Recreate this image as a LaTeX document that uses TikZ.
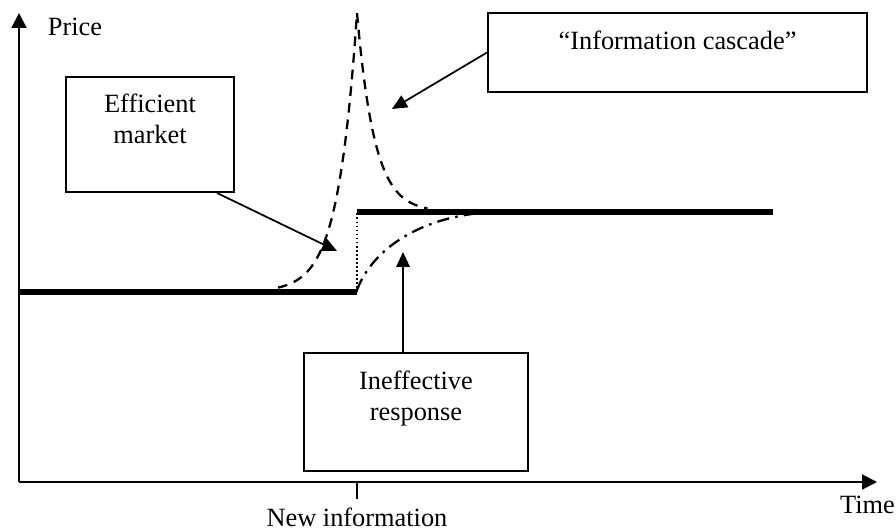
\documentclass[tikz,border=0pt]{standalone}
\usepackage{fontspec}
\setmainfont{Liberation Serif}
\usetikzlibrary{arrows.meta,positioning}
\definecolor{Ink}{HTML}{000000}

\begin{document}
\begin{tikzpicture}[
    font=\fontsize{15}{18}\selectfont,
    text=Ink,
    axis/.style={
        -{Triangle[length=3mm,width=3mm]},
        line width=1.1pt,
        draw=Ink
    },
    pointer/.style={
        -{Triangle[length=3mm,width=2.7mm]},
        line width=1pt,
        draw=Ink
    },
    box/.style={
        draw=Ink,
        line width=1.1pt,
        fill=white,
        inner sep=0pt
    },
    boxtext/.style={
        align=center,
        inner sep=0pt
    },
    level/.style={
        draw=Ink,
        line width=3pt
    },
    jump/.style={
        draw=Ink,
        line width=1pt,
        dash pattern=on 1pt off 1.3pt
    },
    overshoot/.style={
        draw=Ink,
        line width=1.3pt,
        dash pattern=on 5.5pt off 4pt
    },
    sluggish/.style={
        draw=Ink,
        line width=1.3pt,
        dash pattern=on 7pt off 3.5pt on 1.5pt off 3.5pt
    },
    lbl/.style={
        inner sep=0pt
    }
]

\useasboundingbox (0,0) rectangle (17.92,10.6);

% Axes
\coordinate (O) at (0.38,0.96);
\coordinate (ytop) at (0.38,10.34);
\coordinate (xend) at (17.54,0.96);
\draw[axis] (O) -- (ytop);
\draw[axis] (O) -- (xend);

\node[lbl] (price) at (1.5,10.06) {Price};
\node[lbl] (time) at (17.35,0.5) {Time};

% New information tick
\coordinate (newtop) at (7.14,0.96);
\coordinate (newbot) at (7.14,0.62);
\draw[line width=1.1pt, draw=Ink] (newtop) -- (newbot);
\node[lbl, below=0.17cm of newbot] (newinfo) {New information};

% Price levels
\coordinate (lowstart) at (0.38,4.76);
\coordinate (lowend) at (7.14,4.76);
\coordinate (highstart) at (7.14,6.36);
\coordinate (highend) at (15.46,6.36);
\draw[level] (lowstart) -- (lowend);
\draw[level] (highstart) -- (highend);
\draw[jump] (lowend) -- (highstart);

% Cascade overshoot
\draw[overshoot] plot[domain=5.56:7.14, samples=60] (\x, {4.76+5.58*exp((\x-7.14)/0.38)})
    -- plot[domain=7.14:8.55, samples=60] (\x, {6.36+3.98*exp(-(\x-7.14)/0.35)});

% Slow adjustment
\draw[sluggish] (7.14,4.8) .. controls (7.44,5.6) and (8.4,6.3) .. (9.9,6.36);

% Boxes
\node[box, minimum width=3.36cm, minimum height=2.3cm] (effbox) at (3.0,7.91) {};
\node[boxtext] (efftext) at (3.0,8.22) {Efficient\\market};

\node[box, minimum width=7.58cm, minimum height=1.58cm] (cascbox) at (13.55,9.55) {};
\node[boxtext] (casctext) at (13.55,9.8) {``Information cascade''};

\node[box, minimum width=4.48cm, minimum height=2.36cm] (inefbox) at (8.32,2.36) {};
\node[boxtext] (ineftext) at (8.32,2.63) {Ineffective\\response};

% Pointers
\coordinate (efftip) at (6.74,5.58);
\coordinate (casctip) at (7.84,8.42);
\coordinate (ineftip) at (8.06,5.56);
\draw[pointer] ([xshift=-3.6mm]effbox.south east) -- (efftip);
\draw[pointer] (cascbox.west) -- (casctip);
\draw[pointer] ([xshift=-2.6mm]inefbox.north) -- (ineftip);

\end{tikzpicture}
\end{document}
